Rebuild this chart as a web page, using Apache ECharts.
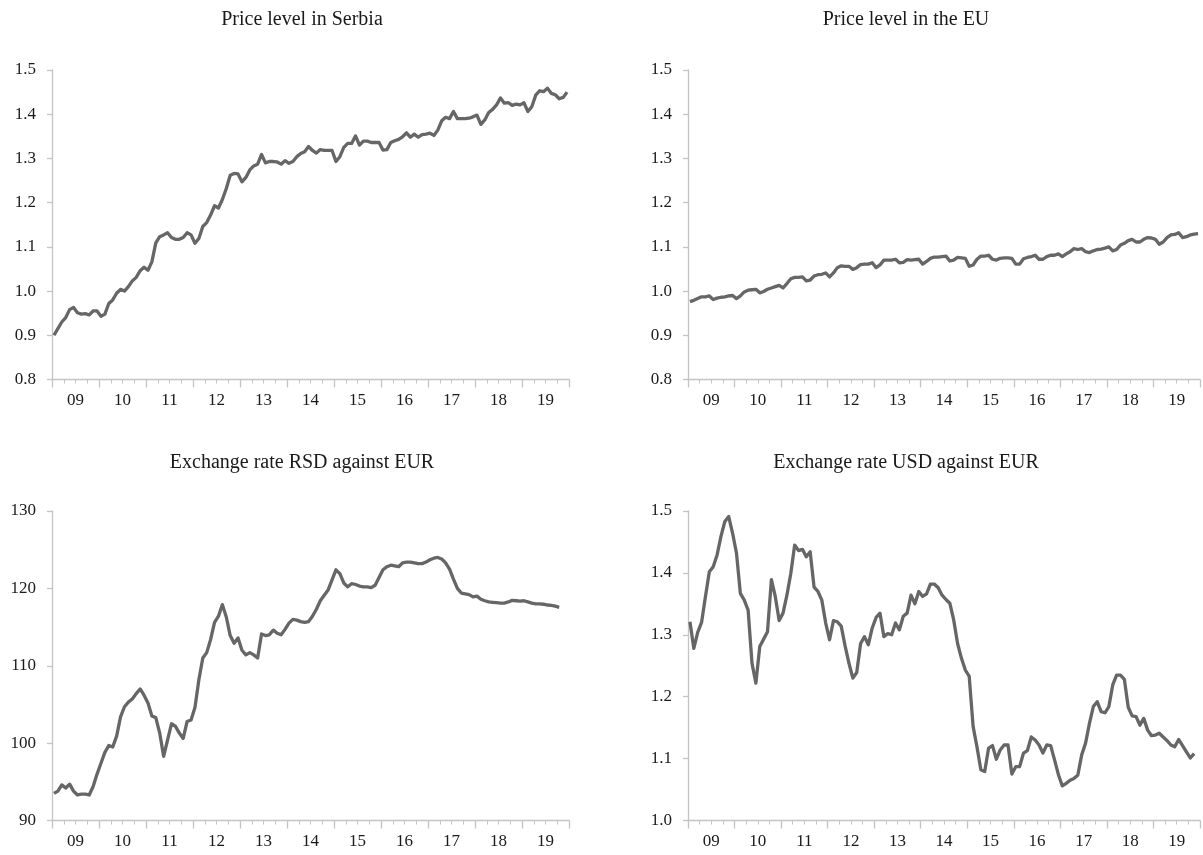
<!DOCTYPE html>
<html>
<head>
<meta charset="utf-8">
<title>Prices and exchange rates</title>
<script src="https://cdn.jsdelivr.net/npm/echarts@6.0.0/dist/echarts.min.js"></script>
<style>
  html, body { margin: 0; padding: 0; background: #fff; }
  #chart { width: 1203px; height: 855px; }
</style>
</head>
<body>
<div id="chart"></div>
<script>
// monthly observations, starting January 2009
var years = ['09', '10', '11', '12', '13', '14', '15', '16', '17', '18', '19'];

var priceSerbia = [
  0.900, 0.915, 0.930, 0.940, 0.958, 0.963, 0.951, 0.948, 0.949, 0.946, 0.955, 0.955,
  0.943, 0.948, 0.972, 0.980, 0.995, 1.004, 1.000, 1.010, 1.023, 1.031, 1.046, 1.054,
  1.047, 1.066, 1.109, 1.123, 1.127, 1.132, 1.121, 1.117, 1.117, 1.121, 1.132, 1.127,
  1.108, 1.119, 1.146, 1.155, 1.172, 1.193, 1.188, 1.207, 1.232, 1.262, 1.266, 1.265,
  1.247, 1.257, 1.274, 1.283, 1.287, 1.309, 1.290, 1.293, 1.293, 1.292, 1.287, 1.295,
  1.289, 1.293, 1.304, 1.311, 1.315, 1.327, 1.318, 1.312, 1.320, 1.318, 1.318, 1.318,
  1.293, 1.304, 1.325, 1.334, 1.334, 1.351, 1.330, 1.339, 1.339, 1.336, 1.336, 1.336,
  1.319, 1.320, 1.336, 1.340, 1.343, 1.349, 1.358, 1.348, 1.355, 1.348, 1.354, 1.355,
  1.357, 1.352, 1.364, 1.385, 1.393, 1.390, 1.406, 1.390, 1.390, 1.390, 1.391, 1.394,
  1.398, 1.377, 1.387, 1.404, 1.411, 1.421, 1.437, 1.425, 1.426, 1.420, 1.423, 1.421,
  1.426, 1.406, 1.417, 1.443, 1.453, 1.451, 1.459, 1.447, 1.444, 1.435, 1.438, 1.450
];

var priceEU = [
  0.976, 0.979, 0.983, 0.987, 0.987, 0.989, 0.981, 0.984, 0.986, 0.987, 0.989, 0.990,
  0.983, 0.989, 0.998, 1.002, 1.003, 1.004, 0.996, 0.999, 1.004, 1.007, 1.010, 1.013,
  1.007, 1.017, 1.028, 1.031, 1.031, 1.032, 1.023, 1.025, 1.034, 1.037, 1.038, 1.041,
  1.032, 1.041, 1.053, 1.057, 1.056, 1.056, 1.049, 1.053, 1.060, 1.061, 1.061, 1.064,
  1.053, 1.059, 1.070, 1.070, 1.070, 1.072, 1.064, 1.065, 1.071, 1.070, 1.071, 1.072,
  1.061, 1.067, 1.074, 1.077, 1.077, 1.078, 1.079, 1.068, 1.070, 1.076, 1.075, 1.074,
  1.056, 1.059, 1.072, 1.079, 1.079, 1.081, 1.072, 1.070, 1.074, 1.075, 1.075, 1.074,
  1.061, 1.061, 1.073, 1.076, 1.078, 1.081, 1.072, 1.072, 1.078, 1.081, 1.081, 1.084,
  1.078, 1.084, 1.089, 1.096, 1.094, 1.096, 1.089, 1.087, 1.091, 1.094, 1.095, 1.097,
  1.100, 1.091, 1.094, 1.104, 1.108, 1.114, 1.117, 1.111, 1.111, 1.117, 1.121, 1.120,
  1.117, 1.106, 1.111, 1.121, 1.127, 1.128, 1.132, 1.121, 1.123, 1.127, 1.129, 1.130
];

var rsdEur = [
  93.5, 93.8, 94.6, 94.2, 94.7, 93.8, 93.3, 93.4, 93.4, 93.3, 94.4, 96.0,
  97.4, 98.8, 99.7, 99.5, 100.9, 103.4, 104.7, 105.3, 105.7, 106.4, 107.0, 106.2,
  105.2, 103.5, 103.3, 101.3, 98.3, 100.4, 102.5, 102.2, 101.3, 100.6, 102.8, 103.0,
  104.6, 108.2, 111.0, 111.7, 113.4, 115.6, 116.4, 117.9, 116.3, 113.9, 112.9, 113.6,
  112.0, 111.4, 111.7, 111.4, 111.0, 114.1, 113.9, 114.0, 114.6, 114.2, 114.0, 114.7,
  115.5, 116.0, 115.9, 115.7, 115.6, 115.7, 116.4, 117.3, 118.4, 119.1, 119.8, 121.1,
  122.4, 121.9, 120.7, 120.2, 120.6, 120.5, 120.3, 120.2, 120.2, 120.1, 120.4, 121.4,
  122.4, 122.8, 123.0, 122.9, 122.8, 123.3, 123.4, 123.4, 123.3, 123.2, 123.2, 123.4,
  123.7, 123.9, 124.0, 123.8, 123.3, 122.5, 121.2, 120.0, 119.4, 119.3, 119.2, 118.9,
  119.0, 118.6, 118.4, 118.25, 118.2, 118.15, 118.1, 118.1, 118.25, 118.45, 118.4, 118.35,
  118.4, 118.25, 118.1, 118.0, 118.0, 117.95, 117.85, 117.8, 117.7, 117.55
];

var usdEur = [
  1.321, 1.278, 1.304, 1.320, 1.362, 1.402, 1.410, 1.429, 1.459, 1.483, 1.491, 1.464,
  1.432, 1.367, 1.356, 1.340, 1.254, 1.222, 1.281, 1.293, 1.305, 1.389, 1.362, 1.323,
  1.335, 1.364, 1.399, 1.445, 1.436, 1.438, 1.426, 1.434, 1.377, 1.370, 1.356, 1.319,
  1.292, 1.323, 1.321, 1.314, 1.282, 1.254, 1.230, 1.239, 1.286, 1.297, 1.284, 1.311,
  1.328, 1.335, 1.297, 1.302, 1.300, 1.319, 1.308, 1.330, 1.335, 1.364, 1.350, 1.370,
  1.362, 1.366, 1.382, 1.382, 1.376, 1.364, 1.357, 1.351, 1.324, 1.286, 1.262, 1.243,
  1.233, 1.152, 1.119, 1.082, 1.079, 1.117, 1.121, 1.099, 1.114, 1.122, 1.122, 1.075,
  1.087, 1.087, 1.109, 1.113, 1.135, 1.130, 1.122, 1.109, 1.122, 1.121, 1.098, 1.074,
  1.056, 1.060, 1.065, 1.068, 1.073, 1.106, 1.125, 1.157, 1.184, 1.192, 1.176, 1.174,
  1.184, 1.219, 1.235, 1.235, 1.228, 1.183, 1.169, 1.168, 1.154, 1.165, 1.146, 1.137,
  1.138, 1.141, 1.135, 1.129, 1.122, 1.119, 1.131, 1.121, 1.111, 1.101, 1.108
];

var FONT = '"Liberation Serif", "DejaVu Serif", serif';
var AXIS_GREY = '#c4c4c4';
var LINE_GREY = '#666666';
var MONTHS = years.length * 12;

// one entry per panel
var panels = [
  { title: 'Price level in Serbia', left: 52, top: 70, titleX: 302, titleY: 20,
    data: priceSerbia, min: 0.8, max: 1.5, step: 0.1, dec: 1 },
  { title: 'Price level in the EU', left: 688, top: 70, titleX: 906, titleY: 20,
    data: priceEU, min: 0.8, max: 1.5, step: 0.1, dec: 1 },
  { title: 'Exchange rate RSD against EUR', left: 52, top: 511, titleX: 302, titleY: 463,
    data: rsdEur, min: 90, max: 130, step: 10, dec: 0 },
  { title: 'Exchange rate USD against EUR', left: 688, top: 511, titleX: 906, titleY: 463,
    data: usdEur, min: 1.0, max: 1.5, step: 0.1, dec: 1 }
];

var grids = [], xAxes = [], yAxes = [], series = [], texts = [];

panels.forEach(function (p, k) {
  grids.push({ left: p.left, top: p.top, width: 517, height: 309.5 });

  // year ticks (long) + quarter ticks (short), carries the axis line
  xAxes.push({
    type: 'value', gridIndex: k, position: 'bottom', min: 0, max: MONTHS, interval: 12,
    axisLine: { show: true, lineStyle: { color: AXIS_GREY, width: 1.3 } },
    axisTick: { show: true, length: 8, lineStyle: { color: AXIS_GREY, width: 1.3 } },
    minorTick: { show: true, splitNumber: 4, length: 4, lineStyle: { color: AXIS_GREY, width: 1 } },
    axisLabel: { show: false },
    splitLine: { show: false }
  });
  // year labels in the middle of each year
  xAxes.push({
    type: 'value', gridIndex: k, position: 'bottom', offset: 0, min: 0, max: MONTHS, interval: 6,
    axisLine: { show: false }, axisTick: { show: false }, splitLine: { show: false },
    axisLabel: {
      margin: 13, color: '#1a1a1a', fontFamily: FONT, fontSize: 17,
      formatter: function (v) {
        if (v % 12 !== 6) return '';
        return years[(v - 6) / 12];
      }
    }
  });

  yAxes.push({
    type: 'value', gridIndex: k, position: 'left', min: p.min, max: p.max, interval: p.step,
    axisLine: { show: true, lineStyle: { color: AXIS_GREY, width: 1.3 } },
    axisTick: { show: true, length: 5, lineStyle: { color: AXIS_GREY, width: 1.3 } },
    splitLine: { show: false },
    axisLabel: {
      margin: 16, color: '#1a1a1a', fontFamily: FONT, fontSize: 17,
      formatter: function (v) { return v.toFixed(p.dec); }
    }
  });

  series.push({
    type: 'line', xAxisIndex: k * 2, yAxisIndex: k,
    data: p.data.map(function (v, i) { return [i + 0.5, v]; }),
    showSymbol: false, symbol: 'none',
    lineStyle: { color: LINE_GREY, width: 3.3, join: 'round' },
    animation: false
  });

  texts.push({
    type: 'text', x: p.titleX, y: p.titleY,
    style: { text: p.title, fill: '#1a1a1a', font: '20px ' + FONT, align: 'center', verticalAlign: 'middle' }
  });
});

var chart = echarts.init(document.getElementById('chart'));
chart.setOption({
  backgroundColor: '#ffffff',
  animation: false,
  grid: grids,
  xAxis: xAxes,
  yAxis: yAxes,
  series: series,
  graphic: texts
});
</script>
</body>
</html>
